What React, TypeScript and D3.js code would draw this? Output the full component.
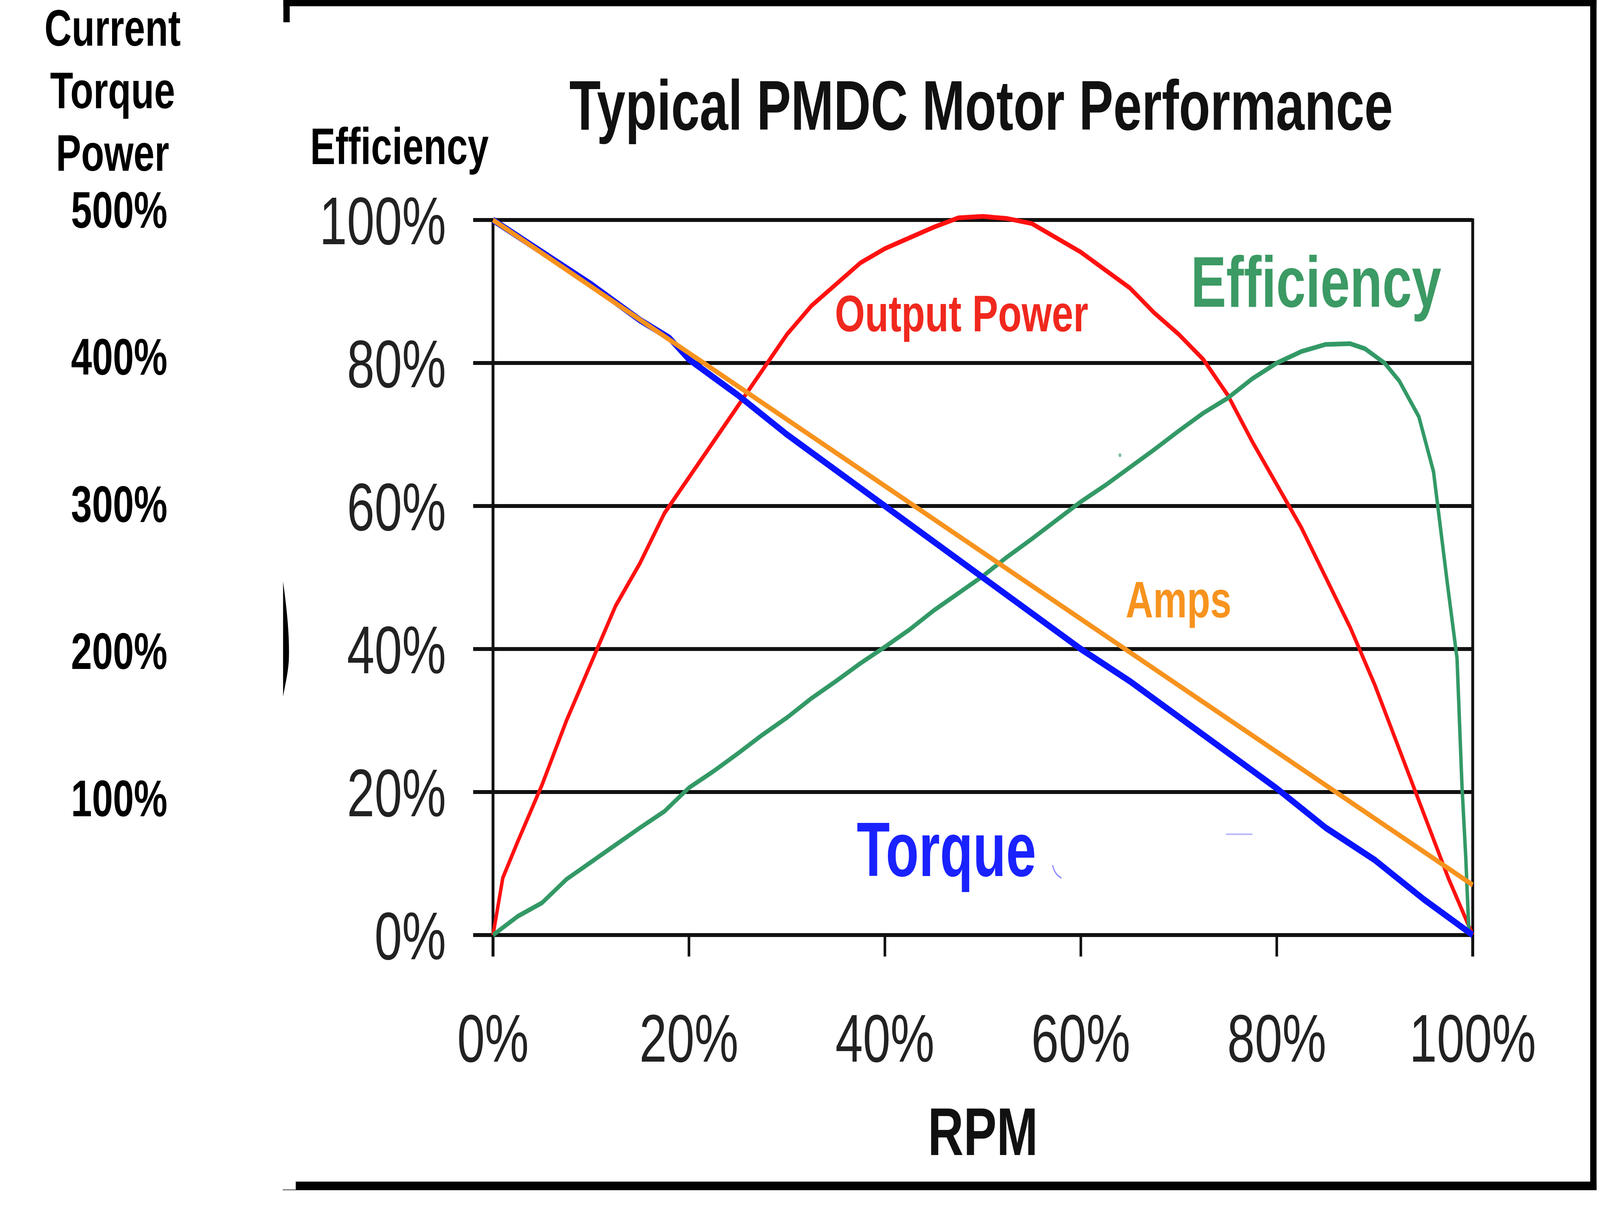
import React, { useEffect } from 'react';
import * as d3 from 'd3';

// values, x = % of RPM, y = %
const torqueRpm = [0, 5, 10, 15, 18, 20, 25, 30, 35, 40, 45, 50, 55, 60, 65, 70, 75, 80, 85, 90, 95, 100];
const torqueVal = [100, 95.5, 91, 86, 83.5, 80.5, 75.5, 70, 65, 60, 55, 50, 45, 40, 35.5, 30.5, 25.5, 20.5, 15, 10.5, 5, 0];

const ampsRpm = [0, 100];
const ampsVal = [100, 7];

const powerRpm = [0, 1, 2.5, 5, 7.5, 10, 12.5, 15, 17.5, 20, 22.5, 25, 27.5, 30, 32.5, 35, 37.5, 40, 42.5, 45, 47.5, 50,
  52.5, 55, 57.5, 60, 62.5, 65, 67.5, 70, 72.5, 75, 77.5, 80, 82.5, 85, 87.5, 90, 92.5, 95, 97.5, 100];
const powerVal = [0, 8, 13, 21, 30, 38, 46, 52, 59, 64, 69, 74, 79, 84, 88, 91, 94, 96, 97.5, 99, 100.3, 100.5,
  100.2, 99.5, 97.5, 95.5, 93, 90.5, 87, 84, 80.5, 75.5, 69, 63, 57, 50, 43, 35, 26, 17, 8, 0];

const effRpm = [0, 2.5, 5, 7.5, 10, 12.5, 15, 17.5, 20, 22.5, 25, 27.5, 30, 32.5, 35, 37.5, 40, 42.5, 45, 47.5, 50,
  52.5, 55, 57.5, 60, 62.5, 65, 67.5, 70, 72.5, 75, 77.5, 80, 82.5, 85, 87.5, 89, 91, 92.5, 94.5, 96, 97.4, 98.4,
  98.9, 99.3, 99.6];
const effVal = [0, 2.6, 4.5, 7.8, 10.2, 12.6, 15, 17.3, 20.6, 22.9, 25.4, 28, 30.4, 33.1, 35.5, 38, 40.3, 42.7, 45.4,
  47.8, 50.2, 52.9, 55.4, 58, 60.6, 62.9, 65.4, 67.9, 70.5, 73, 75.1, 77.8, 80, 81.6, 82.6, 82.7, 82, 80, 77.5, 72.5,
  64.8, 49.3, 38.7, 21, 10.6, 0.7];

const yTicks = [0, 20, 40, 60, 80, 100];
const xTicks = [0, 20, 40, 60, 80, 100];
const leftTicks = [500, 400, 300, 200, 100];
const leftTitle = ['Current', 'Torque', 'Power'];

const W = 5556;
const H = 3089;
const FONT = '"Liberation Sans", Arial, sans-serif';

const x = d3.scaleLinear().domain([0, 100]).range([1712, 5114]);
const y = d3.scaleLinear().domain([0, 100]).range([2393, 563]);
const yLeft = d3.scaleLinear().domain([500, 100]).range([583, 2089]);

const line = d3.line<[number, number]>().x(d => x(d[0])).y(d => y(d[1]));
const pts = (xs: number[], ys: number[]) => xs.map((v, i) => [v, ys[i]] as [number, number]);

export default function App() {
  useEffect(() => {
    document.body.style.margin = '0';
    document.body.style.overflow = 'hidden';
  }, []);

  const tickLen = 55;
  return (
    <svg
      viewBox={`0 0 ${W} ${H}`}
      preserveAspectRatio="none"
      style={{ position: 'absolute', left: 0, top: 0, width: '100vw', height: '100vh', background: '#fff', display: 'block' }}
    >
      <rect x={0} y={0} width={W} height={H} fill="#fff" />

      {/* outer frame */}
      <rect x={984} y={0} width={4560} height={16} fill="#000" />
      <rect x={984} y={0} width={22} height={57} fill="#000" />
      <rect x={5522} y={0} width={22} height={3046} fill="#000" />
      <rect x={1027} y={3024} width={4517} height={22} fill="#000" />
      <line x1={982} x2={1027} y1={3045} y2={3045} stroke="#777" strokeWidth={3} />
      <path d="M983,1488 C996,1560 1006,1625 1003,1690 C1000,1725 990,1752 983,1783 Z" fill="#000" />

      {/* grid */}
      {yTicks.map(t => (
        <line key={'g' + t} x1={1643} x2={x(100)} y1={y(t)} y2={y(t)} stroke="#111" strokeWidth={10} />
      ))}
      <line x1={x(0)} x2={x(0)} y1={y(100)} y2={y(0) + tickLen} stroke="#111" strokeWidth={10} />
      <line x1={x(100)} x2={x(100)} y1={y(100) - 4} y2={y(0) + tickLen} stroke="#111" strokeWidth={10} />
      {xTicks.map(t => (
        <line key={'xt' + t} x1={x(t)} x2={x(t)} y1={y(0)} y2={y(0) + tickLen} stroke="#111" strokeWidth={9} />
      ))}

      {/* curves */}
      <path d={line(pts(powerRpm, powerVal)) || ''} fill="none" stroke="#ff1010" strokeWidth={12} strokeLinejoin="round" />
      <path d={line(pts(effRpm, effVal)) || ''} fill="none" stroke="#339966" strokeWidth={12} strokeLinejoin="round" />
      <path d={line(pts(torqueRpm, torqueVal)) || ''} fill="none" stroke="#0a14ff" strokeWidth={17} strokeLinejoin="round" />
      <path d={line(pts(ampsRpm, ampsVal)) || ''} fill="none" stroke="#f7931e" strokeWidth={13} />

      {/* small scan leftovers */}
      <path d="M3655,2214 Q3662,2238 3686,2247" fill="none" stroke="#8c8cff" strokeWidth={4} />
      <line x1={4257} x2={4349} y1={2135} y2={2135} stroke="#b8b8ff" strokeWidth={4} />
      <circle cx={3889} cy={1165} r={5} fill="#7fbf9a" />

      {/* tick labels */}
      {yTicks.map(t => (
        <text key={'yl' + t} x={1549} y={y(t) + 62} textAnchor="end" fontFamily={FONT} fontSize={172} fill="#222">
          {t}%
        </text>
      ))}
      {xTicks.map(t => (
        <text key={'xl' + t} x={x(t)} y={2717} textAnchor="middle" fontFamily={FONT} fontSize={172} fill="#222">
          {t}%
        </text>
      ))}
      <text x={x(50)} y={2956} textAnchor="middle" fontFamily={FONT} fontWeight="bold" fontSize={172} fill="#111">
        RPM
      </text>

      {/* title */}
      <text x={1977} y={332} fontFamily={FONT} fontWeight="bold" fontSize={180} fill="#111"
        textLength={2860} lengthAdjust="spacingAndGlyphs">
        Typical PMDC Motor Performance
      </text>

      {/* left axis captions */}
      <text x={1077} y={420} fontFamily={FONT} fontWeight="bold" fontSize={131} fill="#000"
        textLength={620} lengthAdjust="spacingAndGlyphs">
        Efficiency
      </text>
      {leftTitle.map((s, i) => (
        <text key={s} x={391} y={117 + i * 160} textAnchor="middle" fontFamily={FONT} fontWeight="bold"
          fontSize={131} fill="#000">
          {s}
        </text>
      ))}
      {leftTicks.map(t => (
        <text key={'lt' + t} x={414} y={yLeft(t)} textAnchor="middle" fontFamily={FONT} fontWeight="bold"
          fontSize={131} fill="#000">
          {t}%
        </text>
      ))}

      {/* series labels */}
      <text x={2899} y={848} fontFamily={FONT} fontWeight="bold" fontSize={132} fill="#f0281e"
        textLength={880} lengthAdjust="spacingAndGlyphs">
        Output Power
      </text>
      <text x={4135} y={785} fontFamily={FONT} fontWeight="bold" fontSize={184} fill="#3c9a64"
        textLength={870} lengthAdjust="spacingAndGlyphs">
        Efficiency
      </text>
      <text x={3909} y={1580} fontFamily={FONT} fontWeight="bold" fontSize={132} fill="#f7931e"
        textLength={367} lengthAdjust="spacingAndGlyphs">
        Amps
      </text>
      <text x={2975} y={2242} fontFamily={FONT} fontWeight="bold" fontSize={196} fill="#1a22ff"
        textLength={623} lengthAdjust="spacingAndGlyphs">
        Torque
      </text>
    </svg>
  );
}
